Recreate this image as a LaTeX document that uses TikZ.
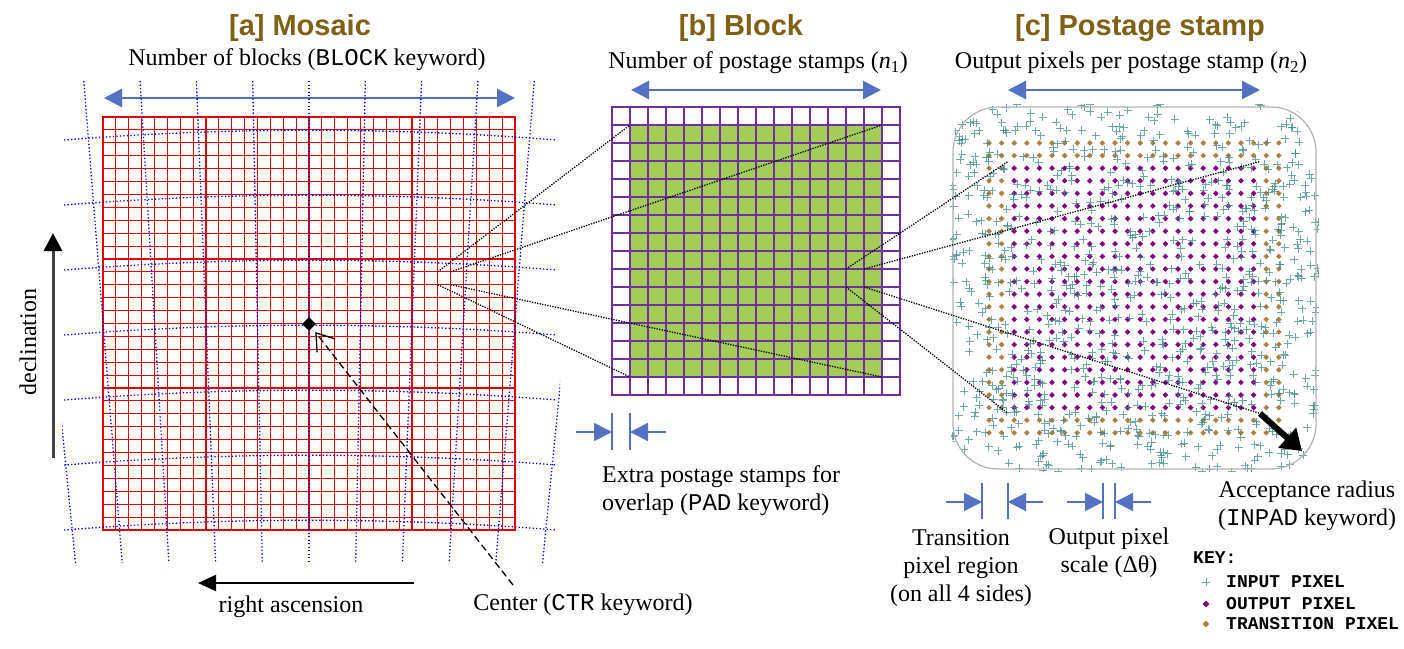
\documentclass[tikz,border=0pt]{standalone}
\usepackage{fontspec}
\setmainfont{Liberation Serif}
\setmonofont{Liberation Mono}
\newfontfamily\titlefont{Liberation Sans}
\usetikzlibrary{arrows.meta,shapes.geometric}
\definecolor{titlecol}{RGB}{127,96,20}
\definecolor{arrblue}{RGB}{84,114,196}
\definecolor{gridred}{RGB}{228,0,0}
\definecolor{gridpurple}{RGB}{112,48,160}
\definecolor{blockgreen}{RGB}{163,204,88}
\definecolor{inpixcol}{RGB}{62,140,140}
\definecolor{outcol}{RGB}{128,0,128}
\definecolor{trcol}{RGB}{174,128,62}
\begin{document}
\begin{tikzpicture}[x=1pt,y=-1pt,
	lbl/.style={font=\fontsize{24}{28}\selectfont, inner sep=0pt},
	ttl/.style={font=\titlefont\bfseries\fontsize{29}{32}\selectfont, text=titlecol, inner sep=0pt},
	keytxt/.style={font=\ttfamily\bfseries\fontsize{18}{20}\selectfont, anchor=west, inner sep=0pt},
	wide/.style={draw=arrblue, line width=2.4pt, {Triangle[length=18pt,width=18pt]}-{Triangle[length=18pt,width=18pt]}},
	pointer/.style={draw=arrblue, line width=1.6pt, -{Triangle[length=18pt,width=18pt]}},
	stopline/.style={draw=arrblue, line width=1.6pt},
	skyline/.style={blue, line width=1.3pt, dash pattern=on 1.3pt off 2.2pt},
	redgrid/.style={draw=gridred, line width=1.1pt, line cap=rect},
	blockgrid/.style={draw=gridpurple, line width=2.2pt, line cap=rect},
	zoomline/.style={line width=1.3pt, dash pattern=on 1.3pt off 1.3pt},
	inpix/.style={draw=inpixcol, line width=1pt, opacity=.75},
	pixmark/.style={diamond, fill=#1, minimum size=7pt, inner sep=0pt}
	]
	\useasboundingbox (0,0) rectangle (1404,648);
	% [a] mosaic
	\node[ttl] (mosaictitle) at (300,28) {[a] Mosaic};
	\node[lbl] (nblocks) at (307,60) {Number of blocks (\texttt{BLOCK} keyword)};
	\coordinate (mw) at (104,98);
	\coordinate (me) at (515,98);
	\draw[wide] (mw) -- (me);
	\foreach \i in {0,...,32} {
		\draw[redgrid] ({103+12.875*\i},117) -- ({103+12.875*\i},530);
		\draw[redgrid] (103,{117+12.906*\i}) -- (515,{117+12.906*\i});
	}
	\begin{scope}
		\clip (62,78) rectangle (560,566);
		\foreach \k in {-5,...,5}
			\draw[skyline] ({309+56.3*\k},81) -- ({309+46.7*\k},563);
		\foreach \j in {0,...,6}
			\draw[skyline] (64,{140+65*\j}) .. controls (228,{127+65*\j}) and (392,{127+65*\j}) .. (557,{140+65*\j});
	\end{scope}
	\node[diamond, fill=black, minimum size=14pt, inner sep=0pt] (ctr) at (309,324) {};
	\coordinate (ctrfoot) at (513,585);
	\draw[line width=1.3pt, dash pattern=on 7pt off 4pt, -{Straight Barb[length=16pt,width=22pt,line width=1.3pt]}, shorten >=5pt] (ctrfoot) -- (ctr);
	\node[lbl] (ctrlab) at (583,605) {Center (\texttt{CTR} keyword)};
	\coordinate (decfoot) at (53,458);
	\coordinate (dectip) at (53,233);
	\draw[line width=3pt, draw=black!75, -{Triangle[length=18pt,width=18pt,color=black]}] (decfoot) -- (dectip);
	\node[lbl, rotate=90] (declab) at (28,342) {declination};
	\coordinate (rafoot) at (414,583);
	\coordinate (ratip) at (198,583);
	\draw[line width=2pt, -{Triangle[length=18pt,width=16pt]}] (rafoot) -- (ratip);
	\node[lbl] (ralab) at (291,607) {right ascension};
	% [b] block
	\node[ttl] (blocktitle) at (741,28) {[b] Block};
	\node[lbl] (nstamps) at (758,63) {Number of postage stamps (\textit{n}\textsubscript{1})};
	\coordinate (bw) at (631,90);
	\coordinate (be) at (881,90);
	\draw[wide] (bw) -- (be);
	\fill[blockgreen] (630,125) rectangle (882,377);
	\foreach \i in {0,...,16} {
		\draw[blockgrid] ({612+18*\i},107) -- ({612+18*\i},395);
		\draw[blockgrid] (612,{107+18*\i}) -- (900,{107+18*\i});
	}
	\coordinate (padl) at (612,413);
	\coordinate (padlb) at (612,450);
	\coordinate (padr) at (630,413);
	\coordinate (padrb) at (630,450);
	\coordinate (padlt) at (576,432);
	\coordinate (padrt) at (666,432);
	\draw[stopline] (padl) -- (padlb);
	\draw[stopline] (padr) -- (padrb);
	\draw[pointer] (padlt) -- (padl |- padlt);
	\draw[pointer] (padrt) -- (padr |- padrt);
	\node[lbl, anchor=west, align=left] (padlab) at (602,491) {Extra postage stamps for\\overlap (\texttt{PAD} keyword)};
	% [c] postage stamp
	\node[ttl] (stamptitle) at (1140,28) {[c] Postage stamp};
	\node[lbl] (npix) at (1131,63) {Output pixels per postage stamp (\textit{n}\textsubscript{2})};
	\coordinate (sw) at (1008,90);
	\coordinate (se) at (1260,90);
	\draw[wide] (sw) -- (se);
	\foreach \i in {0,...,23}
		\foreach \j in {0,...,23} {
			\pgfmathtruncatemacro\edge{(\i<2)||(\i>21)||(\j<2)||(\j>21)}
			\ifnum\edge=1 \def\pc{trcol}\else\def\pc{outcol}\fi
			\fill[fill=\pc] ({989+12.6*\i},{140.2+12.6*\j}) -- ++(2.8,2.8) -- ++(-2.8,2.8) -- ++(-2.8,-2.8) -- cycle;
		}
	\begin{scope}
		\clip[rounded corners=46pt] (950,104) rectangle (1319,472);
		\pgfmathsetseed{4711}
		\foreach \n in {1,...,900} {
			\pgfmathsetmacro\px{950+369*rnd}
			\pgfmathsetmacro\py{104+368*rnd}
			\draw[inpix] (\px-4,\py) -- (\px+4,\py) (\px,\py-4) -- (\px,\py+4);
		}
	\end{scope}
	\draw[draw=black!30, line width=1.2pt, rounded corners=45pt] (953,107) rectangle (1316,469);
	% zoom lines
	\coordinate (m1) at (437.75,271.8);
	\coordinate (m2) at (450.6,271.8);
	\coordinate (m3) at (437.75,284.7);
	\coordinate (m4) at (450.6,284.7);
	\coordinate (b1) at (630,125);
	\coordinate (b2) at (882,125);
	\coordinate (b3) at (630,377);
	\coordinate (b4) at (882,377);
	\coordinate (c1) at (846,269);
	\coordinate (c2) at (864,269);
	\coordinate (c3) at (846,287);
	\coordinate (c4) at (864,287);
	\coordinate (s1) at (1008,161.5);
	\coordinate (s2) at (1260,161.5);
	\coordinate (s3) at (1008,413.5);
	\coordinate (s4) at (1260,413.5);
	\foreach \a/\b in {m1/b1,m2/b2,m3/b3,m4/b4,c1/s1,c2/s2,c3/s3,c4/s4}
		\draw[zoomline] (\a) -- (\b);
	\coordinate (radtip) at (1302,451);
	\draw[line width=6pt, -{Triangle[length=20pt,width=26pt]}] (s4) -- (radtip);
	\node[lbl, align=center] (radlab) at (1307,506) {Acceptance radius\\(\texttt{INPAD} keyword)};
	% transition and scale marks
	\coordinate (trl) at (982,483);
	\coordinate (trlb) at (982,519);
	\coordinate (trr) at (1008,483);
	\coordinate (trrb) at (1008,519);
	\coordinate (trlt) at (946,502);
	\coordinate (trrt) at (1043,502);
	\draw[stopline] (trl) -- (trlb);
	\draw[stopline] (trr) -- (trrb);
	\draw[pointer] (trlt) -- (trl |- trlt);
	\draw[pointer] (trrt) -- (trr |- trrt);
	\coordinate (scl) at (1103,483);
	\coordinate (sclb) at (1103,519);
	\coordinate (scr) at (1115,483);
	\coordinate (scrb) at (1115,519);
	\coordinate (sclt) at (1067,502);
	\coordinate (scrt) at (1151,502);
	\draw[stopline] (scl) -- (sclb);
	\draw[stopline] (scr) -- (scrb);
	\draw[pointer] (sclt) -- (scl |- sclt);
	\draw[pointer] (scrt) -- (scr |- scrt);
	\node[lbl, align=center] (translab) at (961,568) {Transition\\pixel region\\(on all 4 sides)};
	\node[lbl, align=center] (scalelab) at (1109,553) {Output pixel\\scale (Δθ)};
	% key
	\node[keytxt] (keyhead) at (1193,558) {KEY:};
	\draw[inpix] (1202,582) -- (1210,582) (1206,578) -- (1206,586);
	\node[keytxt] (keyin) at (1226,582) {INPUT PIXEL};
	\node[pixmark=outcol] (keyoutmark) at (1206,604) {};
	\node[keytxt] (keyout) at (1226,604) {OUTPUT PIXEL};
	\node[pixmark=trcol] (keytrmark) at (1206,624) {};
	\node[keytxt] (keytr) at (1226,624) {TRANSITION PIXEL};
\end{tikzpicture}
\end{document}
